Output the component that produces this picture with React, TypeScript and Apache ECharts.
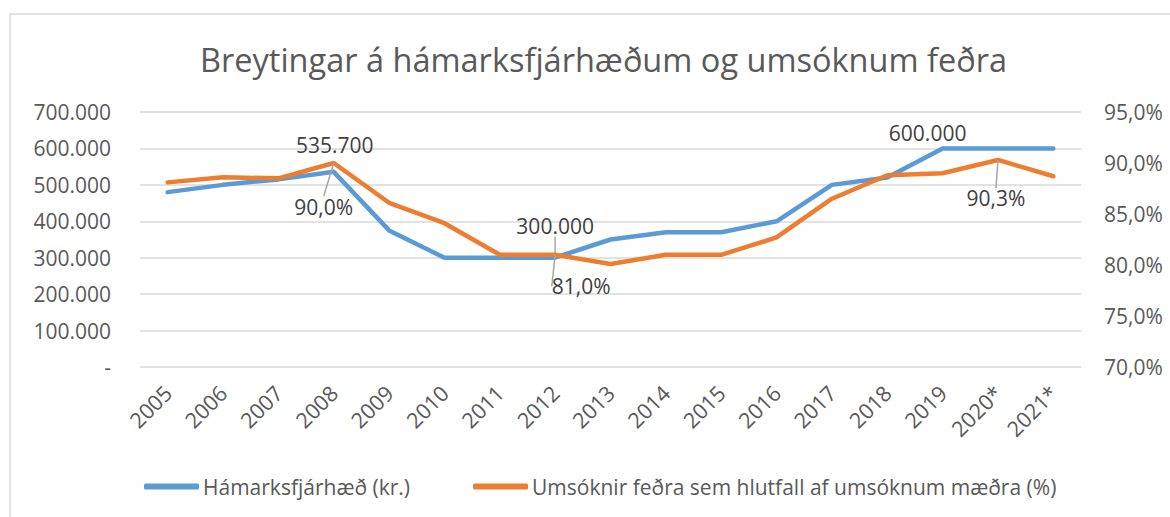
import React, { useEffect, useRef } from "react";
import * as echarts from "echarts";

const categories = ["2005", "2006", "2007", "2008", "2009", "2010", "2011", "2012", "2013", "2014", "2015", "2016", "2017", "2018", "2019", "2020*", "2021*"];
const maxAmount = [480000, 500000, 515000, 535700, 375000, 300000, 300000, 300000, 350000, 370000, 370000, 400000, 500000, 520000, 600000, 600000, 600000];
const fathersShare = [88.1, 88.6, 88.5, 90.0, 86.1, 84.1, 81.0, 81.0, 80.1, 81.0, 81.0, 82.7, 86.5, 88.8, 89.0, 90.3, 88.7];
const leftTicks = { min: 0, max: 700000, interval: 100000 };
const rightTicks = { min: 70, max: 95, interval: 5 };
const blueLabelIdx = [3, 7, 14];
const orangeLabelIdx = [3, 7, 15];

const TITLE = "Breytingar á hámarksfjárhæðum og umsóknum feðra";
const S1 = "Hámarksfjárhæð (kr.)";
const S2 = "Umsóknir feðra sem hlutfall af umsóknum mæðra (%)";

const FONT = "'Open Sans', 'Noto Sans', sans-serif";
const fmtThousands = (v: number) =>
  v === 0 ? "-" : String(Math.round(v)).replace(/\B(?=(\d{3})+(?!\d))/g, ".");
const fmtPct = (v: number) => v.toFixed(1).replace(".", ",") + "%";

export default function App() {
  const ref = useRef<HTMLDivElement>(null);
  useEffect(() => {
    document.body.style.margin = "0";
    if (!ref.current) return;
    const chart = echarts.init(ref.current, undefined, { renderer: "svg" });

    const blueOffsets: Record<number, [number, number]> = { 3: [1, -11], 7: [0, -16], 14: [-15, 0] };
    const orangeOffsets: Record<number, [number, number]> = { 3: [-10, 28], 7: [26, 16], 15: [-2, 23] };
    const blueLine: Record<number, boolean> = { 3: false, 7: true, 14: false };

    const labelBase = {
      fontFamily: FONT,
      fontSize: 21,
      color: "#404040",
    };

    chart.setOption({
      animation: false,
      backgroundColor: "#ffffff",
      title: {
        text: TITLE,
        left: 195,
        top: 38,
        textStyle: { fontFamily: FONT, fontSize: 32.5, fontWeight: "normal", color: "#595959" },
      },
      graphic: [
        {
          type: "rect",
          shape: { x: 10, y: 14, width: 1170, height: 520 },
          style: { fill: "none", stroke: "#d9d9d9", lineWidth: 1.5 },
          silent: true,
          z: -1,
        },
      ],
      legend: {
        left: 139,
        top: 471,
        itemWidth: 55,
        itemHeight: 6,
        itemGap: 63,
        icon: "roundRect",
        textStyle: { fontFamily: FONT, fontSize: 21, color: "#595959", padding: [0, 0, 0, -1] },
        data: [S1, S2],
      },
      grid: { left: 140, right: 89, top: 112, bottom: 150, containLabel: false },
      xAxis: {
        type: "category",
        data: categories,
        boundaryGap: true,
        axisLine: { show: false },
        axisTick: { show: false },
        axisLabel: { rotate: 45, fontFamily: FONT, fontSize: 21.5, color: "#595959", margin: 22, interval: 0 },
      },
      yAxis: [
        {
          type: "value",
          min: leftTicks.min,
          max: leftTicks.max,
          interval: leftTicks.interval,
          axisLine: { show: false },
          axisTick: { show: false },
          splitLine: { show: true, lineStyle: { color: "#d9d9d9", width: 1.5 } },
          axisLabel: { formatter: fmtThousands, fontFamily: FONT, fontSize: 21, color: "#595959", margin: 29 },
        },
        {
          type: "value",
          min: rightTicks.min,
          max: rightTicks.max,
          interval: rightTicks.interval,
          axisLine: { show: false },
          axisTick: { show: false },
          splitLine: { show: false },
          axisLabel: { formatter: fmtPct, fontFamily: FONT, fontSize: 21, color: "#595959", margin: 23 },
        },
      ],
      series: [
        {
          name: S1,
          type: "line",
          yAxisIndex: 0,
          symbol: "circle",
          symbolSize: 0.01,
          showSymbol: true,
          color: "#5b9bd5",
          lineStyle: { width: 4.5, color: "#5b9bd5", cap: "round", join: "round" },
          data: maxAmount.map((v, i) =>
            blueLabelIdx.includes(i)
              ? {
                  value: v,
                  label: { show: true, position: "top", formatter: () => fmtThousands(v), ...labelBase },
                  labelLine: { show: blueLine[i] },
                }
              : v
          ),
          labelLine: { show: true, lineStyle: { color: "#a6a6a6", width: 1.5 } },
          labelLayout: (p: any) => {
            const o = blueOffsets[p.dataIndex];
            return o ? { dx: o[0], dy: o[1] } : {};
          },
          z: 2,
        },
        {
          name: S2,
          type: "line",
          yAxisIndex: 1,
          symbol: "circle",
          symbolSize: 0.01,
          showSymbol: true,
          color: "#ed7d31",
          lineStyle: { width: 4.5, color: "#ed7d31", cap: "round", join: "round" },
          data: fathersShare.map((v, i) =>
            orangeLabelIdx.includes(i)
              ? { value: v, label: { show: true, position: "bottom", formatter: () => fmtPct(v), ...labelBase } }
              : v
          ),
          labelLine: { show: true, lineStyle: { color: "#a6a6a6", width: 1.5 } },
          labelLayout: (p: any) => {
            const o = orangeOffsets[p.dataIndex];
            return o ? { dx: o[0], dy: o[1] } : {};
          },
          z: 3,
        },
      ],
    });
    return () => chart.dispose();
  }, []);
  return <div ref={ref} style={{ width: 1170, height: 517 }} />;
}
